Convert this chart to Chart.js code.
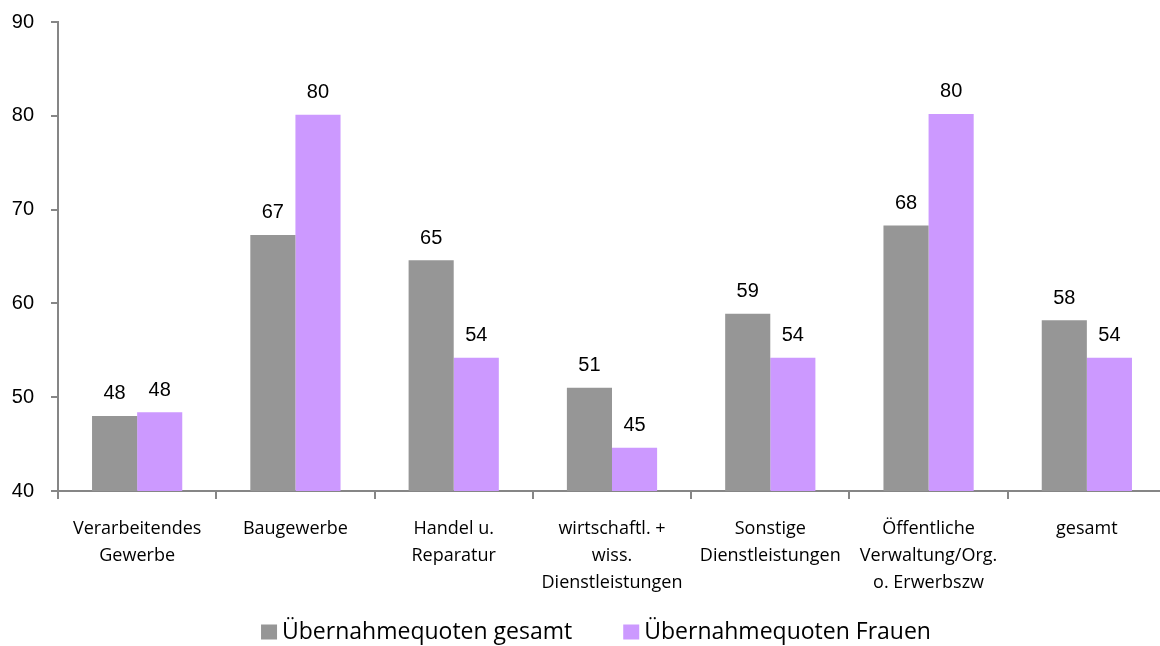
<!DOCTYPE html>
<html>
<head>
<meta charset="utf-8">
<script src="https://cdn.jsdelivr.net/npm/chart.js@4.4.1/dist/chart.umd.min.js"></script>
<style>
html,body{margin:0;padding:0;background:#fff;overflow:hidden;width:1160px;height:646px;}
#wrap{width:1170px;height:646px;}
</style>
</head>
<body>
<div id="wrap"><canvas id="c" width="1170" height="646"></canvas></div>
<script>
const categories = [
  ["Verarbeitendes", "Gewerbe"],
  ["Baugewerbe"],
  ["Handel u.", "Reparatur"],
  ["wirtschaftl. +", "wiss.", "Dienstleistungen"],
  ["Sonstige", "Dienstleistungen"],
  ["Öffentliche", "Verwaltung/Org.", "o. Erwerbszw"],
  ["gesamt"]
];
const seriesNames = ["Übernahmequoten gesamt", "Übernahmequoten Frauen"];
const gesamtValues = [48.0, 67.3, 64.6, 51.0, 58.9, 68.3, 58.2];
const frauenValues = [48.4, 80.1, 54.2, 44.6, 54.2, 80.2, 54.2];
const yTicks = [40, 50, 60, 70, 80, 90];

const axisColor = '#868686';

const valueLabels = {
  id: 'valueLabels',
  afterDatasetsDraw(chart) {
    const ctx = chart.ctx;
    ctx.save();
    ctx.font = '20px "Liberation Sans", Arial, sans-serif';
    ctx.fillStyle = '#000';
    ctx.textAlign = 'center';
    ctx.textBaseline = 'middle';
    chart.data.datasets.forEach((ds, i) => {
      const meta = chart.getDatasetMeta(i);
      meta.data.forEach((el, j) => {
        ctx.fillText(String(Math.round(ds.data[j])), el.x, el.y - 22);
      });
    });
    ctx.restore();
  }
};

const bottomLegend = {
  id: 'bottomLegend',
  afterDraw(chart) {
    const ctx = chart.ctx;
    const box = 16, boxH = 15, gapText = 5, gapItem = 51;
    const centerX = 596, centerY = 632;
    ctx.save();
    ctx.font = '23px "Open Sans", sans-serif';
    ctx.textBaseline = 'middle';
    ctx.textAlign = 'left';
    const items = chart.data.datasets.map(ds => ({ text: ds.label, color: ds.backgroundColor, w: ctx.measureText(ds.label).width }));
    let total = 0;
    items.forEach((it, i) => { total += box + gapText + it.w + (i ? gapItem : 0); });
    let x = centerX - total / 2;
    items.forEach((it, i) => {
      if (i) x += gapItem;
      ctx.fillStyle = it.color;
      ctx.fillRect(x, centerY - boxH / 2, box, boxH);
      x += box + gapText;
      ctx.fillStyle = '#000';
      ctx.fillText(it.text, x, centerY);
      x += it.w;
    });
    ctx.restore();
  }
};

new Chart(document.getElementById('c'), {
  type: 'bar',
  data: {
    labels: categories,
    datasets: [
      { label: seriesNames[0], data: gesamtValues, backgroundColor: '#969696', borderWidth: 0 },
      { label: seriesNames[1], data: frauenValues, backgroundColor: '#CC99FF', borderWidth: 0 }
    ]
  },
  options: {
    responsive: false,
    animation: false,
    devicePixelRatio: 1,
    layout: { padding: { top: 0, right: 4, left: 0, bottom: 0 } },
    datasets: { bar: { barPercentage: 1.0, categoryPercentage: 0.57 } },
    plugins: {
      tooltip: { enabled: false },
      legend: { display: false }
    },
    scales: {
      x: {
        offset: true,
        afterFit(scale) { scale.height = 155; },
        grid: { offset: true, drawOnChartArea: false, color: axisColor, tickColor: axisColor, tickLength: 8, lineWidth: 2 },
        border: { color: axisColor, width: 2 },
        ticks: {
          font: { family: '"Open Sans", sans-serif', size: 18, lineHeight: 1.5 },
          color: '#000',
          maxRotation: 0,
          autoSkip: false,
          padding: 16
        }
      },
      y: {
        min: 40,
        max: 90,
        afterFit(scale) { scale.width = 58; scale.paddingTop = 22; scale.paddingBottom = 12; },
        afterBuildTicks(scale) { scale.ticks = yTicks.map(v => ({ value: v })); },
        grid: { drawOnChartArea: false, color: axisColor, tickColor: axisColor, tickLength: 7, lineWidth: 2 },
        border: { color: axisColor, width: 2 },
        ticks: {
          font: { family: '"Liberation Sans", Arial, sans-serif', size: 20 },
          color: '#000',
          padding: 17
        }
      }
    }
  },
  plugins: [valueLabels, bottomLegend]
});
</script>
</body>
</html>
